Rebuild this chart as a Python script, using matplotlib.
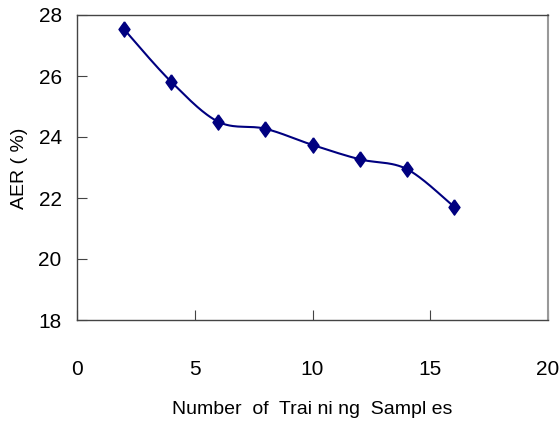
import numpy as np
import matplotlib.pyplot as plt
from matplotlib.path import Path

samples = [2, 4, 6, 8, 10, 12, 14, 16]
aer = [27.53, 25.81, 24.5, 24.27, 23.74, 23.27, 22.95, 21.72]


def smooth_curve(x, y, n=30):
    # catmull-rom style smoothing, roughly what the spreadsheet does
    x = np.asarray(x, float)
    y = np.asarray(y, float)
    px = np.concatenate([[x[0]], x, [x[-1]]])
    py = np.concatenate([[y[0]], y, [y[-1]]])
    xs, ys = [], []
    t = np.linspace(0, 1, n)
    for i in range(1, len(px) - 2):
        p0, p1, p2, p3 = [np.array([px[j], py[j]]) for j in (i - 1, i, i + 1, i + 2)]
        c1 = p1 + (p2 - p0) / 6
        c2 = p2 - (p3 - p1) / 6
        b = ((1 - t) ** 3)[:, None] * p1 + (3 * (1 - t) ** 2 * t)[:, None] * c1 \
            + (3 * (1 - t) * t ** 2)[:, None] * c2 + (t ** 3)[:, None] * p2
        xs.extend(b[:, 0])
        ys.extend(b[:, 1])
    return np.array(xs), np.array(ys)


plt.rcParams['font.family'] = ['Liberation Sans', 'DejaVu Sans']

fig = plt.figure(figsize=(5.6, 4.25), dpi=100)
ax = fig.add_axes([77 / 560, 1 - 320 / 425, 471 / 560, 305 / 425])

navy = '#000080'
cx, cy = smooth_curve(samples, aer)
ax.plot(cx, cy, color=navy, lw=1.5)

# slightly tall diamond
diamond = Path([(0, 1), (0.72, 0), (0, -1), (-0.72, 0), (0, 1)])
ax.plot(samples, aer, linestyle='none', marker=diamond, markersize=11, color=navy)

ax.set_xlim(0, 20)
ax.set_ylim(18, 28)
ax.set_xticks([0, 5, 10, 15, 20])
ax.set_yticks([18, 20, 22, 24, 26, 28])
ax.tick_params(direction='in', length=7, width=0.8, color='#444444',
               labelsize=15, pad=0)
ax.tick_params(axis='x', pad=29)
ax.tick_params(axis='y', pad=11)
for side in ['left', 'bottom', 'top']:
    ax.spines[side].set_color('#444444')
    ax.spines[side].set_linewidth(1.0)
ax.spines['right'].set_color('#999999')
ax.spines['right'].set_linewidth(1.5)

ax.set_xlabel('Number  of  Trai ni ng  Sampl es', fontsize=14)
ax.xaxis.set_label_coords((312 - 77) / 471, -(409 - 320) / 305, transform=ax.transAxes)
ax.xaxis.label.set_va('center')
ax.set_ylabel('AER ( %)', fontsize=14)
ax.yaxis.set_label_coords(-(77 - 19) / 471, (320 - 168) / 305, transform=ax.transAxes)
ax.yaxis.label.set_va('center')

plt.savefig('out.png', dpi=100)
